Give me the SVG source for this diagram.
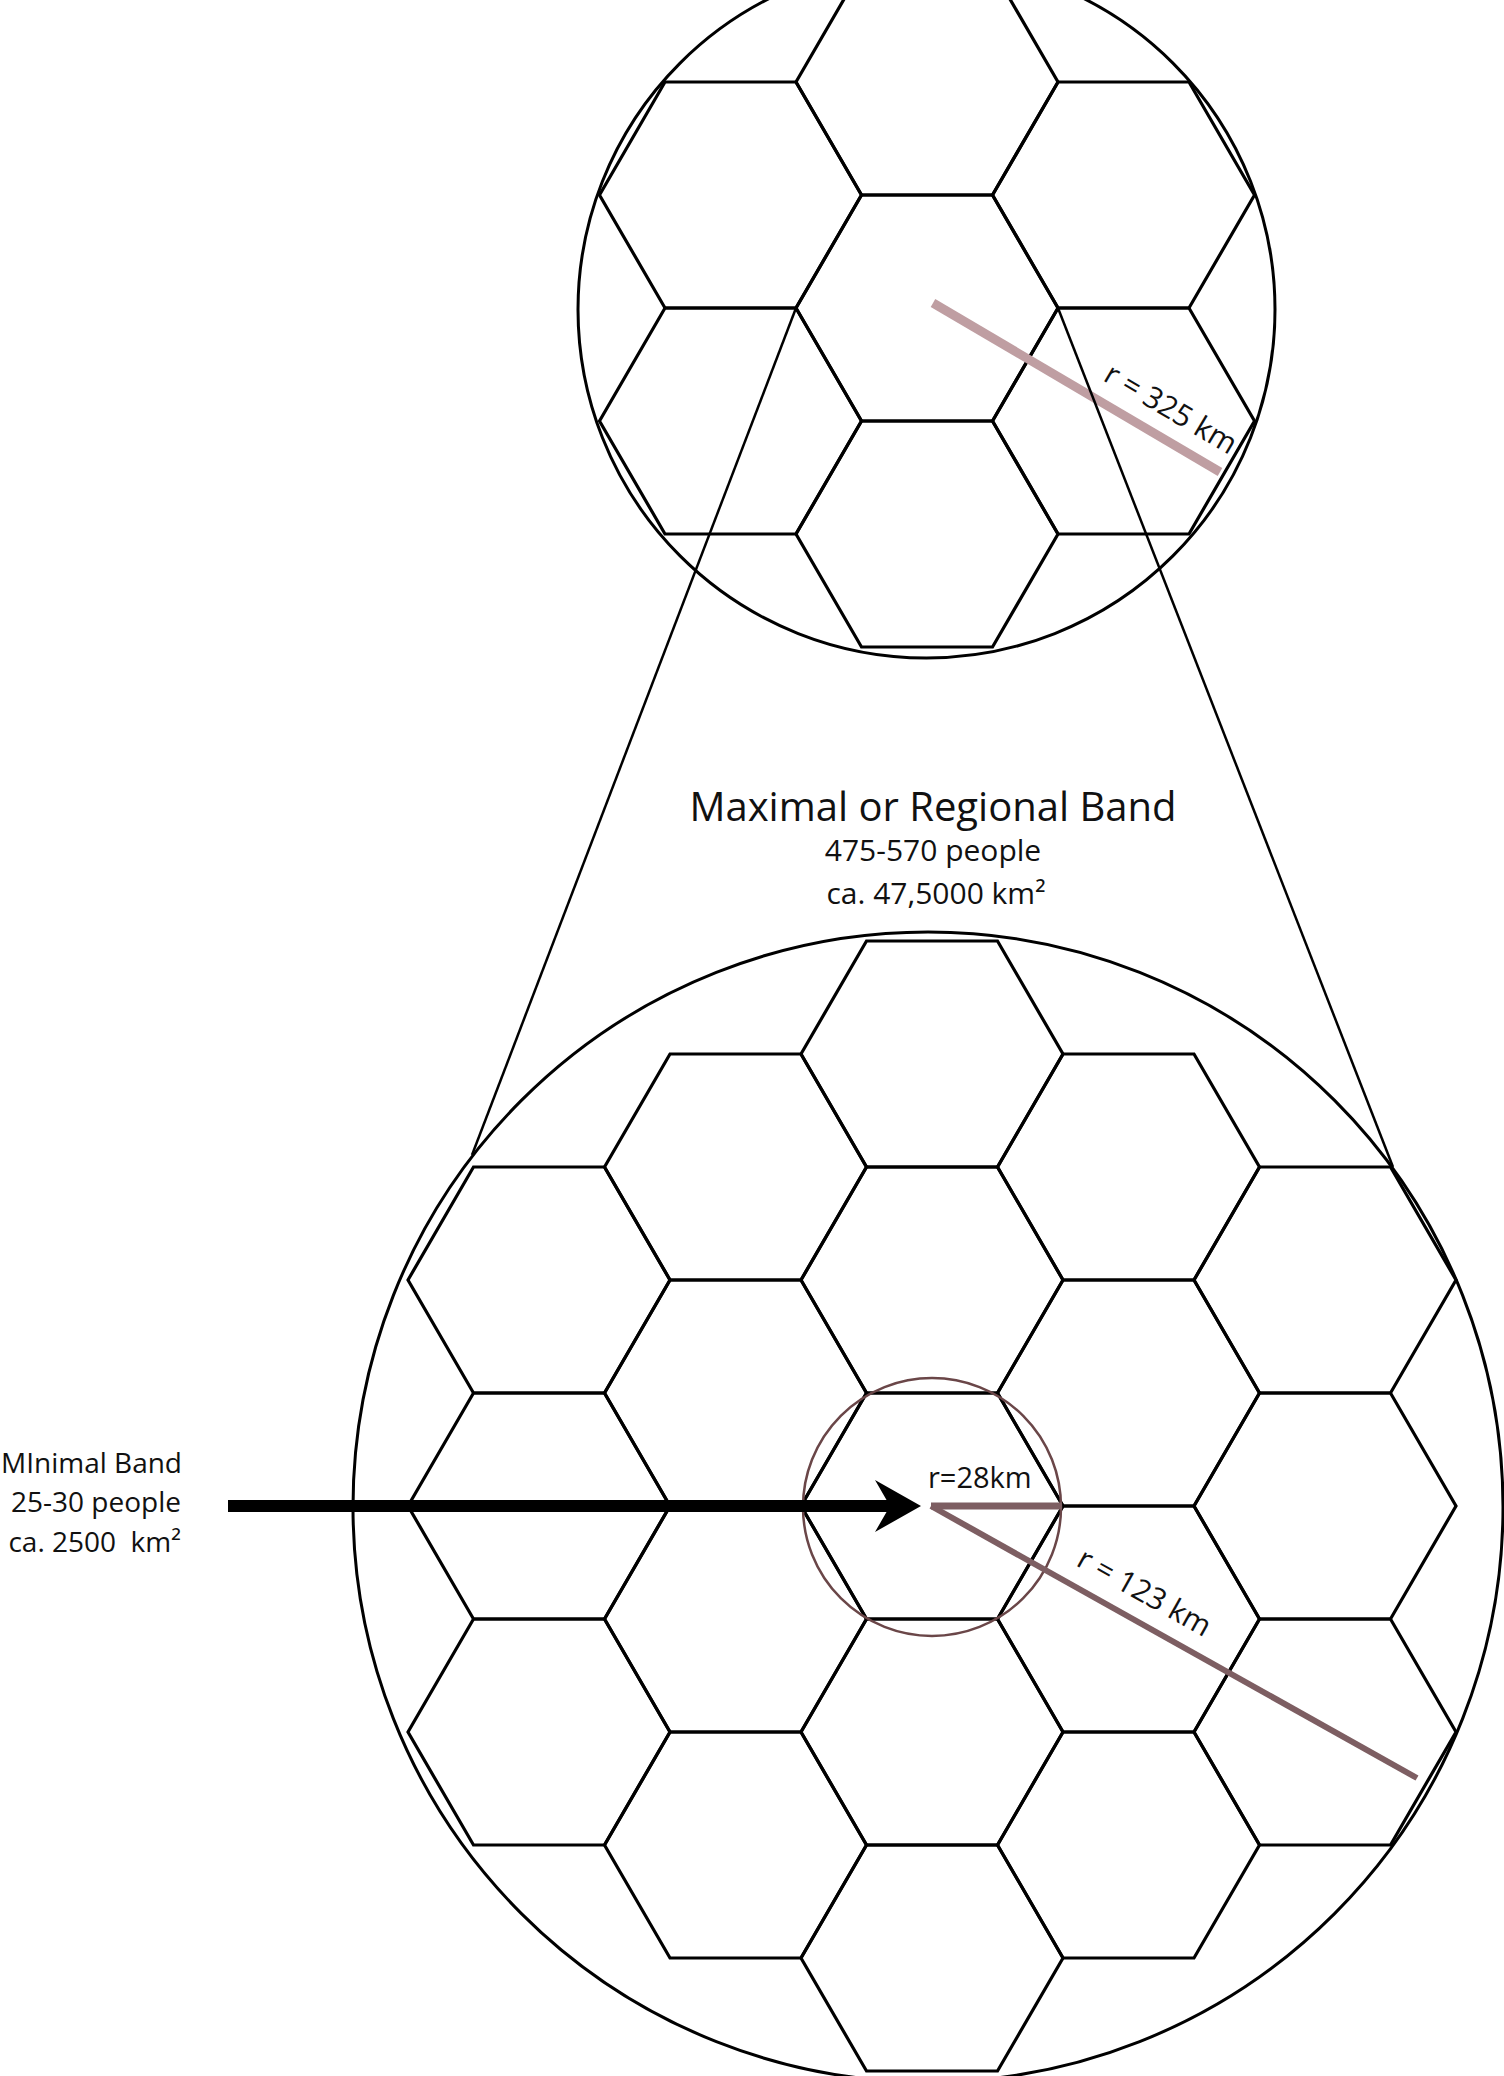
<svg xmlns="http://www.w3.org/2000/svg" xmlns:xlink="http://www.w3.org/1999/xlink" width="1504" height="2076" viewBox="0 0 1504 2076">
<style>
.hex{fill:none;stroke:#000;stroke-width:3.2;stroke-linejoin:miter}
.ring{fill:none;stroke:#000;stroke-width:3}
.tan{fill:none;stroke:#000;stroke-width:2.5}
.lbl{font-family:"Open Sans","Noto Sans",sans-serif;fill:#111;white-space:pre}
</style>
<defs>
<polygon id="hex" class="hex" points="-131,0 -65.5,-113 65.5,-113 131,0 65.5,113 -65.5,113"/>
</defs>
<rect width="1504" height="2076" fill="#fff"/>

<g id="top-region">
  <circle id="top-circle" class="ring" cx="926.5" cy="309.5" r="348.5"/>
  <g id="top-hexes">
    <use id="th-c" xlink:href="#hex" x="927" y="308"/>
    <use id="th-n" xlink:href="#hex" x="927" y="82"/>
    <use id="th-s" xlink:href="#hex" x="927" y="534"/>
    <use id="th-nw" xlink:href="#hex" x="730.5" y="195"/>
    <use id="th-sw" xlink:href="#hex" x="730.5" y="421"/>
    <use id="th-ne" xlink:href="#hex" x="1123.5" y="195"/>
    <use id="th-se" xlink:href="#hex" x="1123.5" y="421"/>
  </g>
  <line id="r325-line" x1="933" y1="303" x2="1220" y2="472" stroke="#bf9ea2" stroke-width="9"/>
  <text id="r325-label" class="lbl" font-size="30" transform="translate(1102,380) rotate(30.5)">r = 325 km</text>
</g>

<g id="title">
  <text class="lbl" x="933" y="821" font-size="40" text-anchor="middle">Maximal or Regional Band</text>
  <text class="lbl" x="933" y="861" font-size="30" text-anchor="middle">475-570 people</text>
  <text class="lbl" x="936" y="904" font-size="30" text-anchor="middle">ca. 47,5000 km²</text>
</g>

<g id="bottom-region">
  <circle id="bottom-circle" class="ring" cx="928" cy="1507" r="575"/>
  <g id="bottom-hexes">
    <use id="bh-0-0" xlink:href="#hex" x="932" y="1054"/>
    <use id="bh-0-1" xlink:href="#hex" x="932" y="1280"/>
    <use id="bh-0-2" xlink:href="#hex" x="932" y="1506"/>
    <use id="bh-0-3" xlink:href="#hex" x="932" y="1732"/>
    <use id="bh-0-4" xlink:href="#hex" x="932" y="1958"/>
    <use id="bh-m1-0" xlink:href="#hex" x="735.5" y="1167"/>
    <use id="bh-m1-1" xlink:href="#hex" x="735.5" y="1393"/>
    <use id="bh-m1-2" xlink:href="#hex" x="735.5" y="1619"/>
    <use id="bh-m1-3" xlink:href="#hex" x="735.5" y="1845"/>
    <use id="bh-p1-0" xlink:href="#hex" x="1128.5" y="1167"/>
    <use id="bh-p1-1" xlink:href="#hex" x="1128.5" y="1393"/>
    <use id="bh-p1-2" xlink:href="#hex" x="1128.5" y="1619"/>
    <use id="bh-p1-3" xlink:href="#hex" x="1128.5" y="1845"/>
    <use id="bh-m2-0" xlink:href="#hex" x="539" y="1280"/>
    <use id="bh-m2-1" xlink:href="#hex" x="539" y="1506"/>
    <use id="bh-m2-2" xlink:href="#hex" x="539" y="1732"/>
    <use id="bh-p2-0" xlink:href="#hex" x="1325" y="1280"/>
    <use id="bh-p2-1" xlink:href="#hex" x="1325" y="1506"/>
    <use id="bh-p2-2" xlink:href="#hex" x="1325" y="1732"/>
  </g>
  <circle id="minimal-circle" cx="932" cy="1507" r="129" fill="none" stroke="#6a4648" stroke-width="2.5"/>
  <line id="r123-line" x1="931" y1="1506" x2="1417" y2="1778" stroke="#7d5e62" stroke-width="6"/>
  <line id="r28-line" x1="931" y1="1506" x2="1062" y2="1506" stroke="#7d5e62" stroke-width="7"/>
  <text id="r28-label" class="lbl" x="928" y="1488" font-size="29">r=28km</text>
  <text id="r123-label" class="lbl" font-size="30" transform="translate(1075,1565) rotate(29.3)">r = 123 km</text>
</g>

<g id="minimal-label">
  <text class="lbl" x="182" y="1473" font-size="28" text-anchor="end">MInimal Band</text>
  <text class="lbl" x="181" y="1512" font-size="28" text-anchor="end">25-30 people</text>
  <text class="lbl" x="181" y="1552" font-size="28" text-anchor="end">ca. 2500  km²</text>
</g>

<g id="connectors">
  <line id="tangent-left" class="tan" x1="796" y1="308" x2="472" y2="1155"/>
  <line id="tangent-right" class="tan" x1="1058" y1="308" x2="1393" y2="1167"/>
  <g id="arrow">
    <line x1="228" y1="1506" x2="892" y2="1506" stroke="#000" stroke-width="12"/>
    <path d="M921,1506 L875,1480 L890,1506 L875,1532 Z" fill="#000"/>
  </g>
</g>
</svg>
